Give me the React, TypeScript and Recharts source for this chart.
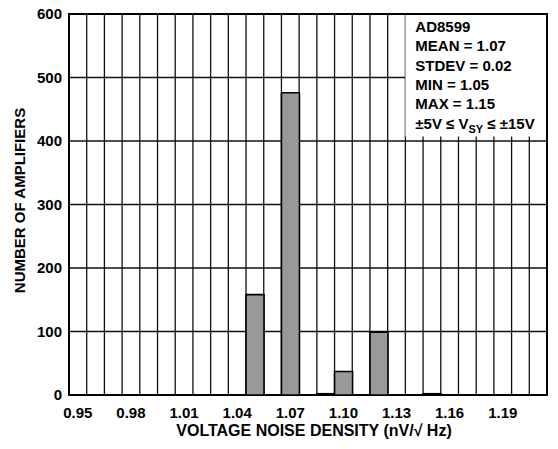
import { BarChart, Bar, XAxis, YAxis, CartesianGrid, ReferenceArea, Label } from 'recharts'

const BINS = [
  '0.95', '0.96', '0.97', '0.98', '0.99', '1.00', '1.01', '1.02', '1.03',
  '1.04', '1.05', '1.06', '1.07', '1.08', '1.09', '1.10', '1.11', '1.12',
  '1.13', '1.14', '1.15', '1.16', '1.17', '1.18', '1.19', '1.20', '1.21',
]
const COUNTS = [
  0, 0, 0, 0, 0, 0, 0, 0, 0,
  0, 158, 0, 476, 0, 2, 37, 0, 99,
  0, 0, 2, 0, 0, 0, 0, 0, 0,
]
const X_TICKS = ['0.95', '0.98', '1.01', '1.04', '1.07', '1.10', '1.13', '1.16', '1.19']
const Y_TICKS = [0, 100, 200, 300, 400, 500, 600]
const NOTES = ['AD8599', 'MEAN = 1.07', 'STDEV = 0.02', 'MIN = 1.05', 'MAX = 1.15']

const FONT = '"Liberation Sans", Arial, sans-serif'
const INK = '#000'

const data = BINS.map((bin, i) => ({ bin, count: COUNTS[i] }))

function XTick({ x, y, payload }: any) {
  return (
    <text x={x} y={y} dy="0.72em" textAnchor="middle" fill={INK} fontSize={15} fontWeight={700} fontFamily={FONT}>
      {payload.value}
    </text>
  )
}

function YTick({ x, y, payload }: any) {
  return (
    <text x={x} y={y} dy="0.36em" textAnchor="end" fill={INK} fontSize={15} fontWeight={700} fontFamily={FONT}>
      {payload.value}
    </text>
  )
}

function NotesBox({ viewBox }: { viewBox?: { x: number; y: number } }) {
  if (!viewBox) return null
  const x = viewBox.x + 10
  const y0 = viewBox.y + 18
  const step = 19.3
  const textProps = { fill: INK, fontSize: 15, fontWeight: 700, fontFamily: FONT }
  return (
    <g>
      {NOTES.map((t, i) => (
        <text key={t} x={x} y={y0 + i * step} {...textProps}>{t}</text>
      ))}
      <text x={x} y={y0 + 5 * step} {...textProps}>
        ±5V ≤ V<tspan fontSize={11} dy={4}>SY</tspan><tspan dy={-4}> ≤ ±15V</tspan>
      </text>
    </g>
  )
}

function YTitle({ viewBox }: { viewBox?: { x: number; y: number; height: number } }) {
  if (!viewBox) return null
  const cx = 25
  const cy = viewBox.y + viewBox.height / 2 - 4
  return (
    <text
      x={cx} y={cy} transform={`rotate(-90, ${cx}, ${cy})`}
      textAnchor="middle" fill={INK} fontSize={15} fontWeight={700} fontFamily={FONT}
    >
      NUMBER OF AMPLIFIERS
    </text>
  )
}

export default function App() {
  return (
    <div style={{ position: 'absolute', left: 0, top: 0, width: 558, height: 449, background: '#fff' }}>
      <BarChart
        width={558} height={449} data={data}
        margin={{ top: 14, right: 11, bottom: 0, left: 0 }}
        barCategoryGap={0} barGap={0}
      >
        <CartesianGrid
          stroke="#111" strokeWidth={1.3}
          verticalCoordinatesGenerator={({ offset }: any) =>
            BINS.concat('').map((_, i) => offset.left + (i * offset.width) / BINS.length)}
        />
        <XAxis
          dataKey="bin" ticks={X_TICKS} tick={<XTick />}
          axisLine={false} tickLine={false} tickSize={0} tickMargin={12} height={54}
        >
          <Label
            value="VOLTAGE NOISE DENSITY (nV/√ Hz)" position="insideBottom" offset={13} dx={6}
            style={{ fill: INK, fontSize: 16, fontWeight: 700, fontFamily: FONT }}
          />
        </XAxis>
        <YAxis
          domain={[0, 600]} ticks={Y_TICKS} tick={<YTick />} interval={0}
          axisLine={false} tickLine={false} tickSize={0} tickMargin={7} width={69}
          label={<YTitle />}
        />
        <Bar dataKey="count" fill="#999999" stroke={INK} strokeWidth={1.6} isAnimationActive={false} />
        <ReferenceArea
          x1="1.14" x2="1.21" y1={407} y2={600}
          fill="#fff" fillOpacity={1} stroke="none"
          label={<NotesBox />}
        />
        <ReferenceArea
          x1="0.95" x2="1.21" y1={0} y2={600}
          fill="none" stroke={INK} strokeWidth={2}
        />
      </BarChart>
    </div>
  )
}
